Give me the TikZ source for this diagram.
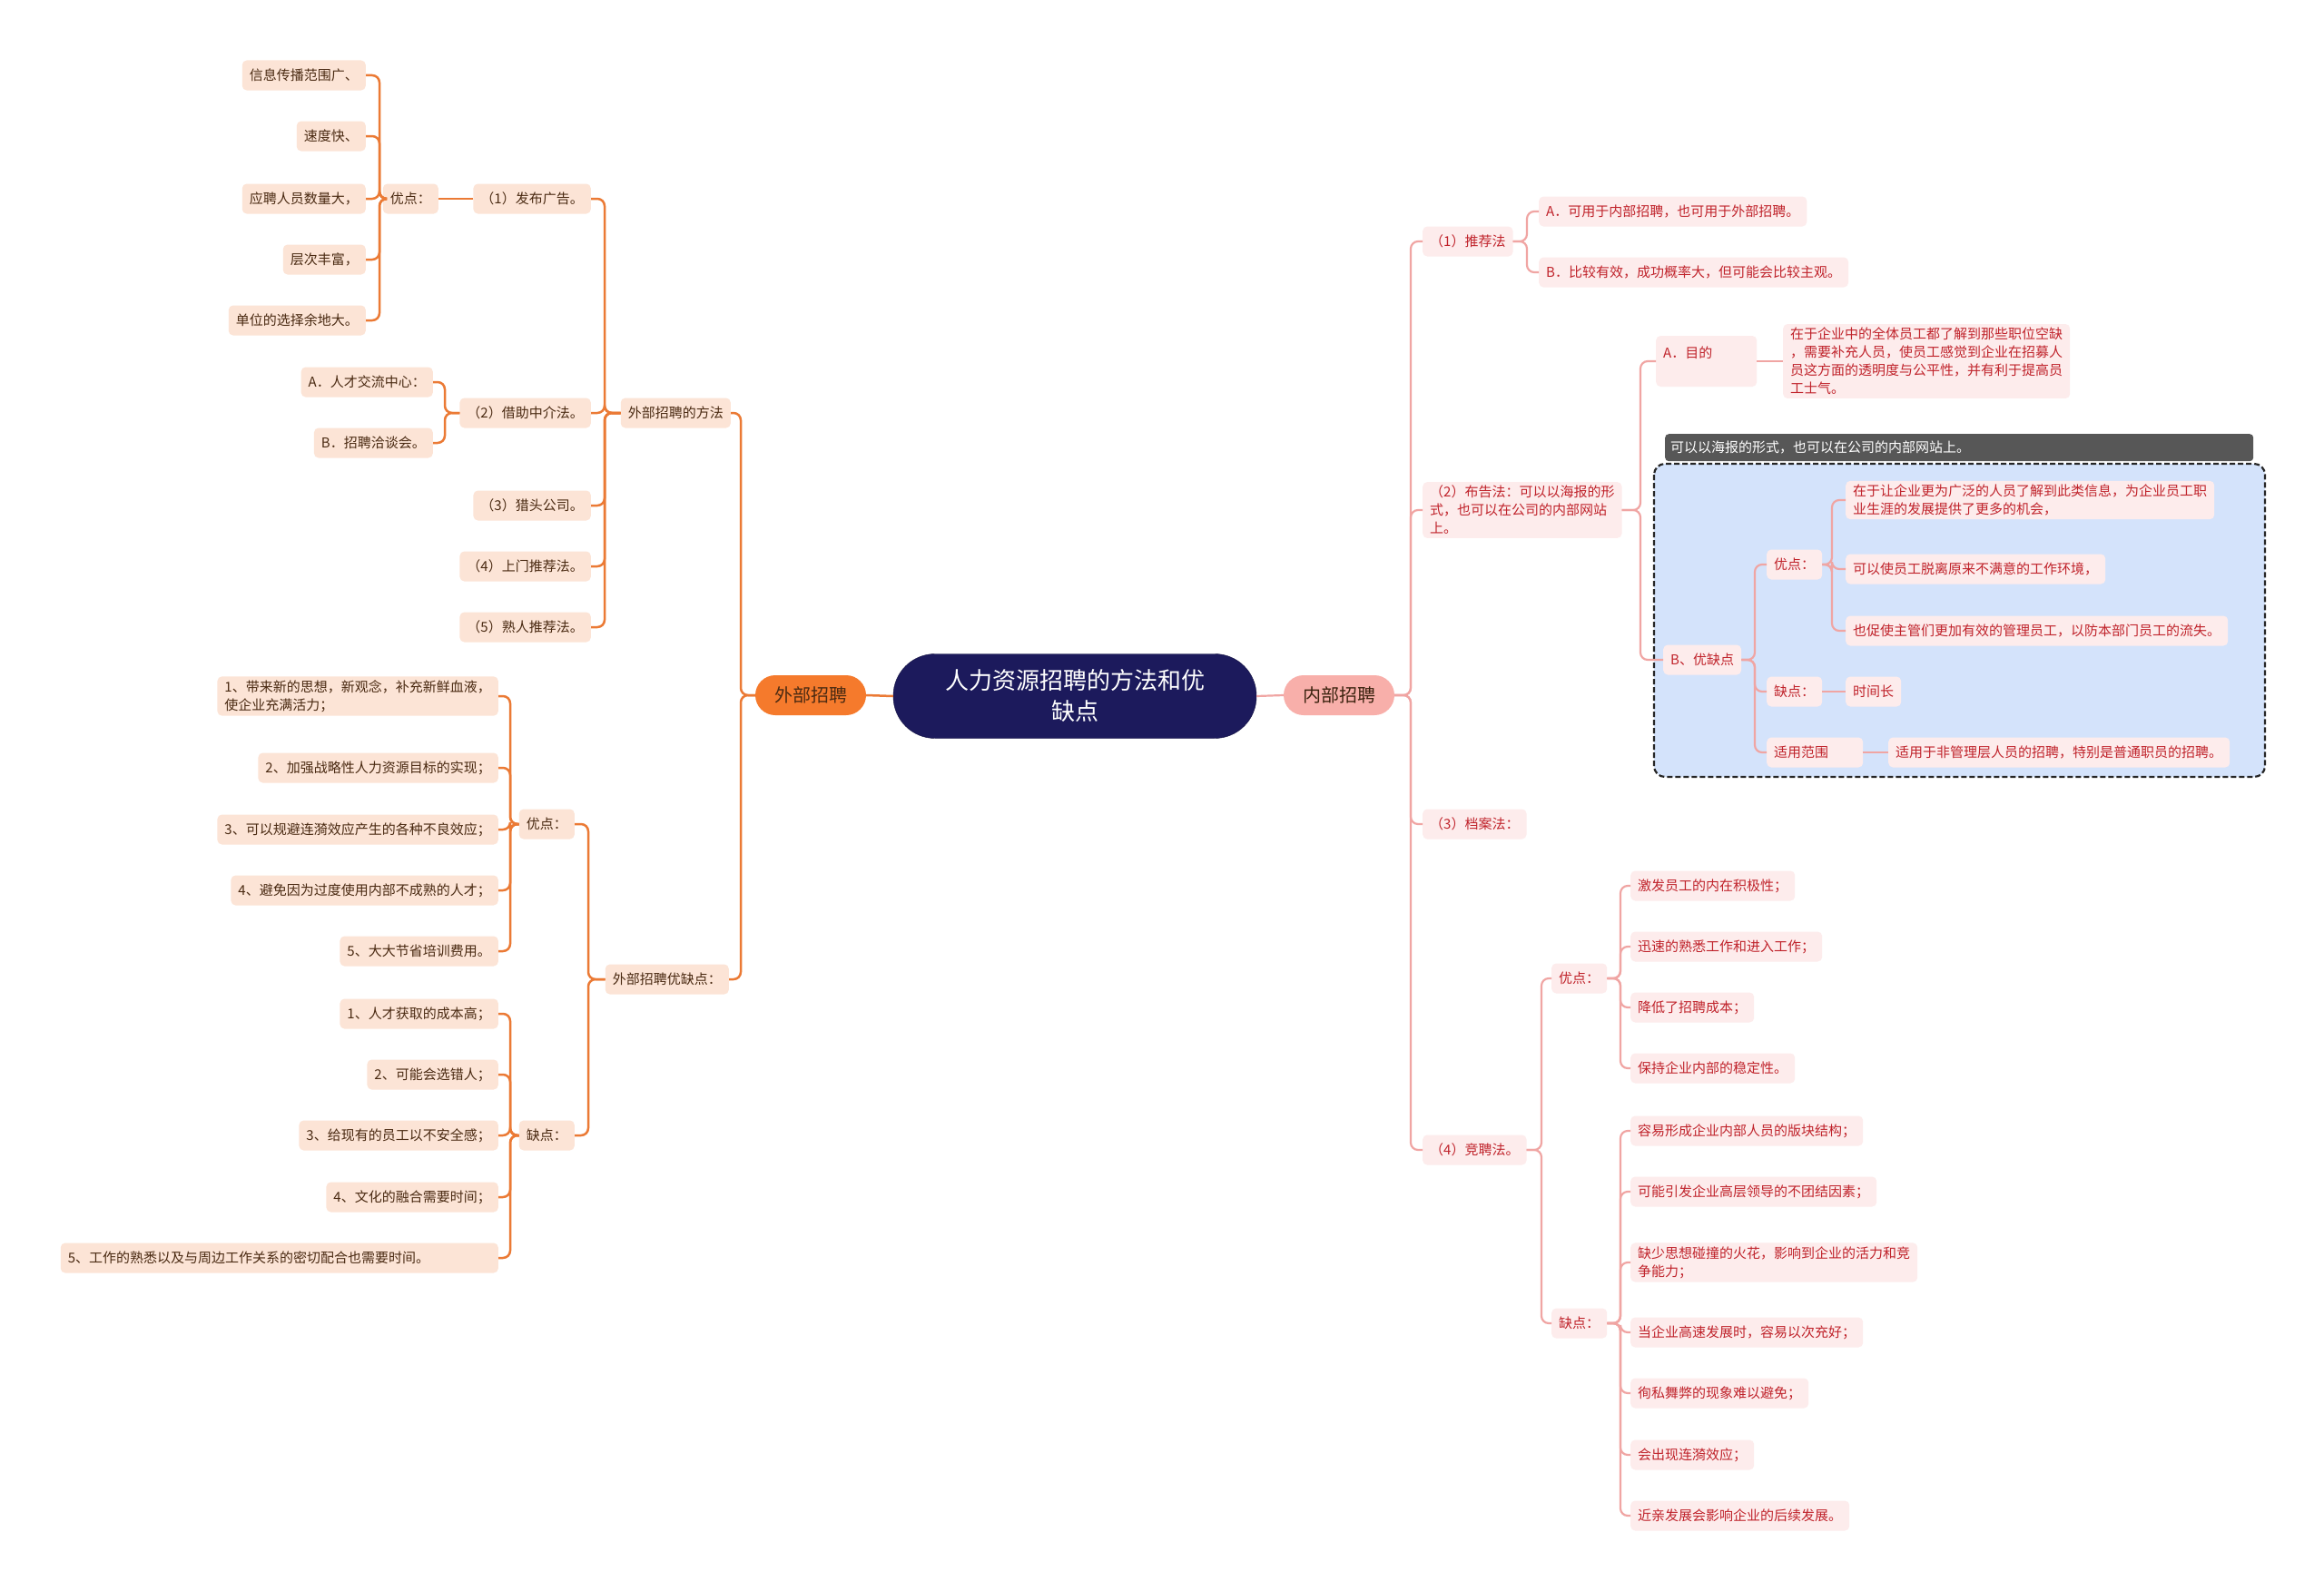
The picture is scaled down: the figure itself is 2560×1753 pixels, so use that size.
\documentclass[tikz,border=0pt]{standalone}
\usepackage{fontspec}
\setmainfont{Noto Sans CJK SC}
\usetikzlibrary{calc}
\definecolor{ocol}{HTML}{EB7A35}
\definecolor{pcol}{HTML}{F0A5A3}
\definecolor{lfill}{HTML}{FCE4D6}
\definecolor{ltext}{HTML}{4A2A12}
\definecolor{rfill}{HTML}{FDECEC}
\definecolor{rtext}{HTML}{C0232B}
\definecolor{navy}{HTML}{1C1A5C}
\definecolor{ofill}{HTML}{F57A2C}
\definecolor{pfill}{HTML}{F8AFAA}
\definecolor{bfill}{HTML}{D4E3FB}
\definecolor{gfill}{HTML}{575757}
\newcommand\fs{\fontsize{15}{20}\selectfont}
\begin{document}
\begin{tikzpicture}[x=1pt,y=-1pt,
  base/.style={rounded corners=5, inner xsep=8, inner ysep=4, minimum height=33, font=\fs, align=left},
  ol/.style={base, fill=lfill, text=ltext, anchor=east},
  pr/.style={base, fill=rfill, text=rtext, anchor=west},
  tw/.style={text width=#1},
  oline/.style={draw=ocol, line width=2.5, rounded corners=8},
  pline/.style={draw=pcol, line width=2.2, rounded corners=8},
  topic/.style={minimum width=122, minimum height=44, rounded corners=22, font=\fontsize{20}{24}\selectfont, inner sep=0}
]
\useasboundingbox (0,0) rectangle (2560,1753);
\fill[white] (0,0) rectangle (2560,1753);

% trunk x coordinates
\coordinate (tA) at (816,0);
\coordinate (tB) at (666,0);
\coordinate (tC) at (418,0);
\coordinate (tD) at (490,0);
\coordinate (tE) at (648,0);
\coordinate (tF) at (562,0);
\coordinate (tR) at (1554,0);
\coordinate (tR1) at (1682,0);
\coordinate (tR2) at (1807,0);
\coordinate (tR3) at (1933,0);
\coordinate (tR4) at (2018,0);
\coordinate (tR5) at (1698,0);
\coordinate (tR6) at (1785,0);

% central
\node[fill=navy, draw=navy!70!black, minimum width=400, minimum height=93, rounded corners=46, text=white, align=center, font=\fontsize{26}{34}\selectfont] (root) at (1184,767) {人力资源招聘的方法和优\\缺点};
\node[topic, fill=ofill, text=ltext] (ext) at (893,766) {外部招聘};
\node[topic, fill=pfill, text=ltext!80!black] (int) at (1475,766) {内部招聘};

% ---------------- left side ----------------
\node[ol] (m) at (805,455) {外部招聘的方法};
\node[ol] (a1) at (651,219) {（1）发布广告。};
\node[ol] (a1y) at (483,219) {优点：};
\node[ol] (a1y1) at (403,83) {信息传播范围广、};
\node[ol] (a1y2) at (403,150) {速度快、};
\node[ol] (a1y3) at (403,219) {应聘人员数量大，};
\node[ol] (a1y4) at (403,286) {层次丰富，};
\node[ol] (a1y5) at (403,353) {单位的选择余地大。};
\node[ol] (a2) at (651,455) {（2）借助中介法。};
\node[ol] (a2a) at (477,421) {A．人才交流中心：};
\node[ol] (a2b) at (477,488) {B．招聘洽谈会。};
\node[ol] (a3) at (651,557) {（3）猎头公司。};
\node[ol] (a4) at (651,624) {（4）上门推荐法。};
\node[ol] (a5) at (651,691) {（5）熟人推荐法。};

\node[ol] (e) at (803,1079) {外部招聘优缺点：};
\node[ol] (ey) at (633,908) {优点：};
\node[ol] (ek) at (633,1251) {缺点：};
\node[ol] (ey1) at (549,767) {1、带来新的思想，新观念，补充新鲜血液，\\使企业充满活力；};
\node[ol] (ey2) at (549,846) {2、加强战略性人力资源目标的实现；};
\node[ol] (ey3) at (549,914) {3、可以规避连漪效应产生的各种不良效应；};
\node[ol] (ey4) at (549,981) {4、避免因为过度使用内部不成熟的人才；};
\node[ol] (ey5) at (549,1048) {5、大大节省培训费用。};
\node[ol] (ek1) at (549,1117) {1、人才获取的成本高；};
\node[ol] (ek2) at (549,1184) {2、可能会选错人；};
\node[ol] (ek3) at (549,1251) {3、给现有的员工以不安全感；};
\node[ol] (ek4) at (549,1319) {4、文化的融合需要时间；};
\node[ol, tw=466] (ek5) at (549,1386) {5、工作的熟悉以及与周边工作关系的密切配合也需要时间。};

% left connectors
\draw[oline] (root.west) -- (ext.east);
\foreach \c in {m,e} \draw[oline] (ext.west) -- (ext.west -| tA) |- (\c.east);
\foreach \c in {a1,a2,a3,a4,a5} \draw[oline] (m.west) -- (m.west -| tB) |- (\c.east);
\draw[oline] (a1.west) -- (a1y.east);
\foreach \c in {a1y1,a1y2,a1y3,a1y4,a1y5} \draw[oline] (a1y.west) -- (a1y.west -| tC) |- (\c.east);
\foreach \c in {a2a,a2b} \draw[oline] (a2.west) -- (a2.west -| tD) |- (\c.east);
\foreach \c in {ey,ek} \draw[oline] (e.west) -- (e.west -| tE) |- (\c.east);
\foreach \c in {ey1,ey2,ey3,ey4,ey5} \draw[oline] (ey.west) -- (ey.west -| tF) |- (\c.east);
\foreach \c in {ek1,ek2,ek3,ek4,ek5} \draw[oline] (ek.west) -- (ek.west -| tF) |- (\c.east);

% ---------------- right side ----------------
\draw[dash pattern=on 6pt off 3pt, line width=2.2, draw=black!85, rounded corners=12, fill=bfill] (1822,511) rectangle (2495,856);
\node[anchor=north west, fill=gfill, text=white, rounded corners=4, minimum height=30, inner xsep=6, inner ysep=3, align=left, text width=636, font=\fs] (lab) at (1834,478) {可以以海报的形式，也可以在公司的内部网站上。};

\node[pr] (r1) at (1567,266) {（1）推荐法};
\node[pr] (r1a) at (1695,233) {A．可用于内部招聘，也可用于外部招聘。};
\node[pr] (r1b) at (1695,300) {B．比较有效，成功概率大，但可能会比较主观。};
\node[pr] (r2) at (1567,562) {（2）布告法：可以以海报的形\\式，也可以在公司的内部网站\\上。};
\node[pr, tw=95, minimum height=56] (r2a) at (1824,398) {A．目的\\\mbox{}};
\node[pr] (r2ad) at (1964,398) {在于企业中的全体员工都了解到那些职位空缺\\，需要补充人员，使员工感觉到企业在招募人\\员这方面的透明度与公平性，并有利于提高员\\工士气。};
\node[pr] (r2b) at (1832,727) {B、优缺点};
\node[pr] (r2by) at (1946,622) {优点：};
\node[pr] (r2bk) at (1946,762) {缺点：};
\node[pr, tw=90] (r2bs) at (1946,829) {适用范围};
\node[pr] (r2by1) at (2033,551) {在于让企业更为广泛的人员了解到此类信息，为企业员工职\\业生涯的发展提供了更多的机会，};
\node[pr] (r2by2) at (2033,627) {可以使员工脱离原来不满意的工作环境，};
\node[pr] (r2by3) at (2033,695) {也促使主管们更加有效的管理员工，以防本部门员工的流失。};
\node[pr] (r2bk1) at (2033,762) {时间长};
\node[pr] (r2bs1) at (2080,829) {适用于非管理层人员的招聘，特别是普通职员的招聘。};
\node[pr] (r3) at (1567,908) {（3）档案法：};
\node[pr] (r4) at (1567,1267) {（4）竞聘法。};
\node[pr] (r4y) at (1709,1078) {优点：};
\node[pr] (r4k) at (1709,1458) {缺点：};
\node[pr] (r4y1) at (1796,976) {激发员工的内在积极性；};
\node[pr] (r4y2) at (1796,1043) {迅速的熟悉工作和进入工作；};
\node[pr] (r4y3) at (1796,1110) {降低了招聘成本；};
\node[pr] (r4y4) at (1796,1177) {保持企业内部的稳定性。};
\node[pr] (r4k1) at (1796,1246) {容易形成企业内部人员的版块结构；};
\node[pr] (r4k2) at (1796,1313) {可能引发企业高层领导的不团结因素；};
\node[pr] (r4k3) at (1796,1391) {缺少思想碰撞的火花，影响到企业的活力和竞\\争能力；};
\node[pr] (r4k4) at (1796,1468) {当企业高速发展时，容易以次充好；};
\node[pr] (r4k5) at (1796,1535) {徇私舞弊的现象难以避免；};
\node[pr] (r4k6) at (1796,1603) {会出现连漪效应；};
\node[pr] (r4k7) at (1796,1670) {近亲发展会影响企业的后续发展。};

% right connectors
\draw[pline] (root.east) -- (int.west);
\foreach \c in {r1,r2,r3,r4} \draw[pline] (int.east) -- (int.east -| tR) |- (\c.west);
\foreach \c in {r1a,r1b} \draw[pline] (r1.east) -- (r1.east -| tR1) |- (\c.west);
\foreach \c in {r2a,r2b} \draw[pline] (r2.east) -- (r2.east -| tR2) |- (\c.west);
\draw[pline] (r2a.east) -- (r2ad.west);
\foreach \c in {r2by,r2bk,r2bs} \draw[pline] (r2b.east) -- (r2b.east -| tR3) |- (\c.west);
\foreach \c in {r2by1,r2by2,r2by3} \draw[pline] (r2by.east) -- (r2by.east -| tR4) |- (\c.west);
\draw[pline] (r2bk.east) -- (r2bk1.west);
\draw[pline] (r2bs.east) -- (r2bs1.west);
\foreach \c in {r4y,r4k} \draw[pline] (r4.east) -- (r4.east -| tR5) |- (\c.west);
\foreach \c in {r4y1,r4y2,r4y3,r4y4} \draw[pline] (r4y.east) -- (r4y.east -| tR6) |- (\c.west);
\foreach \c in {r4k1,r4k2,r4k3,r4k4,r4k5,r4k6,r4k7} \draw[pline] (r4k.east) -- (r4k.east -| tR6) |- (\c.west);
\end{tikzpicture}
\end{document}
